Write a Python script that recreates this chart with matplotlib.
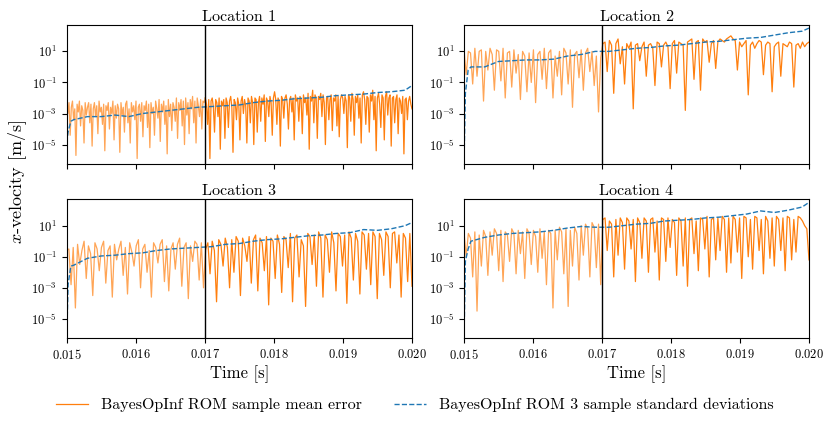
import numpy as np
import matplotlib
matplotlib.use("Agg")
import matplotlib.pyplot as plt
from matplotlib.ticker import FixedLocator, NullLocator

plt.rcParams["font.family"] = "cmr10"
plt.rcParams["mathtext.fontset"] = "cm"
plt.rcParams["axes.formatter.use_mathtext"] = True
plt.rcParams["axes.unicode_minus"] = False

titles = ["Location 1", "Location 2", "Location 3", "Location 4"]
t_train_end = 0.017

err_loc1 = [
    -2.5, -3.0, -2.3, -4.4, -2.6, -2.2, -3.4, -2.7, -5.7, -2.4, -2.9, -2.2, -3.8, -2.5, -2.8, -4.9, -2.3, -3.1, -2.6, -2.3,
    -3.6, -2.4, -5.1, -2.7, -2.3, -3.2, -2.5, -4.3, -2.2, -2.9, -2.6, -3.7, -2.4, -5.4, -2.5, -2.8, -2.3, -4.0, -2.6, -3.0,
    -2.2, -4.7, -2.5, -3.3, -2.4, -2.7, -5.5, -2.3, -3.1, -2.6, -4.2, -2.4, -2.2, -3.6, -2.7, -4.9, -2.3, -2.9, -2.5, -3.4,
    -2.2, -5.9, -2.6, -2.4, -3.5, -2.3, -4.5, -2.5, -2.8, -2.2, -3.9, -2.4, -5.2, -2.3, -3.0, -2.6, -4.4, -2.2, -2.7, -3.3,
    -2.1, -4.8, -2.4, -2.9, -2.2, -3.7, -2.5, -5.6, -2.1, -3.2, -2.4, -4.1, -2.3, -2.6, -3.5, -2.0, -4.6, -2.3, -2.8, -2.1,
    -3.8, -2.2, -5.0, -2.0, -3.1, -2.3, -4.3, -2.1, -2.7, -1.9, -3.6, -2.2, -4.9, -2.0, -2.5, -3.2, -2.1, -4.0, -2.2, -2.3,
    -2.0, -2.4, -3.7, -2.1, -5.9, -2.2, -2.0, -2.6, -4.2, -2.1, -2.3, -3.2, -2.0, -5.3, -2.2, -2.5, -2.1, -4.6, -2.0, -2.3,
    -3.9, -2.2, -1.9, -2.6, -5.5, -2.1, -2.3, -3.4, -2.0, -2.4, -4.7, -2.2, -1.9, -3.0, -2.1, -2.5, -4.9, -2.0, -2.2, -3.6,
    -1.9, -2.3, -5.0, -2.0, -2.1, -4.2, -2.3, -1.9, -3.5, -2.0, -2.4, -1.8, -4.8, -2.0, -2.2, -3.2, -1.9, -2.3, -4.4, -2.0,
    -1.6, -2.1, -3.7, -2.0, -2.2, -5.1, -1.9, -2.1, -3.3, -2.0, -1.8, -2.4, -4.0, -2.1, -1.9, -2.9, -2.0, -4.7, -1.8, -2.2,
    -2.0, -3.5, -1.9, -2.1, -4.3, -1.8, -2.3, -2.0, -3.1, -1.7, -5.3, -1.9, -2.2, -1.5, -3.6, -1.8, -2.0, -4.6, -1.9, -2.1,
    -1.7, -3.2, -1.8, -2.3, -5.0, -2.0, -1.9, -3.4, -2.1, -1.8, -4.1, -2.0, -2.2, -1.8, -3.8, -1.9, -4.5, -2.1, -1.8, -2.0,
    -3.0, -1.9, -2.2, -5.2, -1.8, -2.0, -3.5, -1.7, -2.1, -4.4, -1.9, -2.3, -1.8, -3.3, -2.0, -4.9, -1.8, -1.6, -2.1, -3.7,
    -1.9, -2.0, -4.2, -1.8, -2.2, -1.5, -3.4, -1.9, -5.4, -2.0, -1.7, -2.4, -3.9, -1.8, -2.0, -4.7, -1.9, -1.6, -3.1, -2.0,
    -1.8, -5.1, -2.0, -1.9, -3.6, -2.1, -1.8, -4.3, -2.0, -2.2, -3.0, -1.9, -5.6, -2.1, -2.0, -3.4, -2.2, -1.9, -2.4, -2.7,
]
err_loc2 = [
    1.1, -0.5, 1.0, 0.9, -1.1, 1.2, -0.6, 1.0, 1.1, -2.2, 1.0, -0.2, 1.2, 0.8, -1.5, 1.1, 1.0, -0.9, 1.2, -2.0,
    0.9, 1.0, -1.3, 1.1, -0.4, 0.8, -2.1, 1.0, 0.7, -1.6, 0.9, -1.0, 1.1, -2.3, 0.8, 1.0, -0.8, 1.2, -1.4, 0.9,
    1.1, -2.0, 0.7, -0.6, 1.0, -1.8, 1.2, 0.9, -1.1, 1.1, -2.6, 0.8, 1.0, -0.7, 1.1, -1.5, 0.9, 1.2, -0.3, 1.0,
    -1.2, 0.7, -2.9, 0.6,
    1.5, 1.6, -0.3, 1.7, 1.4, -1.7, 1.5, 1.8, 0.2, 1.3, -1.1, 1.5, 1.2, 1.6, -2.7, 1.4, 1.5, 0.4, 1.3, 1.6,
    -0.6, 1.4, 1.5, 1.2, -1.2, 1.6, 1.5, 0.0, 1.4, 1.6, 1.3, -1.4, 1.5, 1.7, -0.4, 1.6, 1.5, 1.4, -2.8, 1.6,
    1.7, 1.8, -0.8, 1.6, 1.7, -1.5, 1.8, 1.6, 1.7, 0.3, 1.5, 1.7, -0.1, 1.6, 1.8, 1.7, 1.6, 1.8, 1.9, 2.0,
    1.8, 1.7, -0.2, 1.6, 1.3, 1.5, 1.7, -1.8, 1.4, 1.6, 1.2, 1.5, 1.7, 1.6, -0.5, 1.4, 1.6, 1.5, -1.6, 1.3,
    1.5, 1.6, -0.6, 1.5, 1.4, 1.3, 1.6, 1.5, -1.3, 1.4, 1.5, 1.2, 1.6, 1.3, 1.5, 1.6,
]
err_loc3 = [
    -0.6, -0.5, -2.8, -0.4, -4.3, -0.2, -1.5, -0.6, 0.0, -2.4, -0.3, -0.8, -3.5, -0.1, -0.5, -1.9, -0.4, 0.0, -2.7, -0.6,
    -0.3, -3.6, -0.2, -1.2, -0.5, 0.0, -2.2, -0.4, -3.4, -0.1, -0.7, -1.6, -0.3, 0.1, -3.0, -0.5, -0.2, -2.0, -0.6, -3.6,
    -0.1, -0.4, -1.4, -0.2, 0.1, -2.6, -0.3, -3.2, -0.5, -0.1, -1.8, -0.2, 0.2, -2.9, -0.4, -0.1, -3.7, -0.3, -1.3, 0.0,
    -0.2, -2.5, -0.1, -3.0,
    -0.5, -0.1, -2.1, 0.0, -0.6, -3.9, 0.1, -0.2, -1.6, 0.2, -0.4, -3.0, 0.1, -2.0, 0.3, 0.0, -3.5, 0.2, -0.3, -1.3,
    0.3, -2.7, 0.1, 0.4, -3.2, 0.2, -0.1, -1.9, 0.3, -4.1, 0.2, 0.0, -2.4, 0.4, -0.2, -3.3, 0.3, 0.1, -1.7, 0.5,
    -3.9, 0.2, 0.4, -2.3, 0.1, -0.3, -4.2, 0.5, 0.3, -1.5, 0.4, -2.9, 0.6, 0.2, -3.6, 0.4, 0.1, -2.0, 0.6, -0.1,
    -3.2, 0.5, 0.3, -1.6, 0.4, -4.0, 0.6, 0.2, -2.5, 0.5, 0.0, -3.4, 0.6, 0.4, -1.8, 0.5, -2.8, 0.6, 0.3, -3.7,
    0.5, 0.1, -2.2, 0.6, 0.3, -3.0, 0.5, 0.6, -1.4, 0.4, -3.6, 0.5, 0.2, -2.6, 0.5, -2.9,
]
err_loc4 = [
    0.6, -1.0, 0.5, 0.2, -2.3, 0.6, -4.5, 0.4, -1.6, 0.7, 0.3, -2.2, 0.6, -0.9, 0.8, 0.5, -1.9, 0.7, -2.6, 0.6,
    0.4, -1.3, 0.8, 0.5, -2.1, 0.7, -0.8, 0.6, -2.4, 0.8, 0.5, -1.5, 0.7, 0.3, -2.0, 0.8, -1.1, 0.6, -2.8, 0.7,
    0.5, -4.3, 0.7, -1.2, 0.9, 0.6, -2.1, 0.8, -4.2, 0.7, -1.6, 0.9, 0.5, -2.5, 1.0, -0.9, 1.1, 0.8, -2.3, 1.2,
    0.9, -1.7, 1.1, -2.8,
    1.4, 1.5, -0.6, 1.3, 1.1, -2.3, 1.4, -0.9, 1.5, 1.2, -1.8, 1.5, 1.3, -0.5, 1.4, -2.6, 1.5, 1.2, -1.1, 1.5,
    1.3, -2.0, 1.4, 1.5, -0.7, 1.3, -2.5, 1.5, 1.4, -1.3, 1.5, -0.4, 1.4, 1.2, -2.2, 1.5, 1.3, -1.6, 1.5, -2.9,
    1.4, 1.5, -0.8, 1.3, -1.9, 1.5, 1.4, -0.5, 1.6, -2.3, 1.4, 1.5, -1.2, 1.5, -0.6, 1.6, 1.4, -2.0, 1.5, -1.4,
    1.6, 1.4, -0.7, 1.5, -2.4, 1.6, 1.5, -1.0, 1.4, -1.8, 1.6, 1.5, -0.6, 1.4, -2.1, 1.6, 1.3, -1.1, 1.5, -1.6,
    1.6, 1.4, -0.6, 1.5, -1.9, 1.6, 1.5, -1.2, 1.4, -0.7, 1.6, 1.5, 1.3, 1.0, 0.8, -1.2,
]

# 3 sample standard deviations, log10, at these times
t_std = [0.015, 0.01502, 0.01506, 0.0151, 0.0153, 0.0155, 0.0157, 0.0159, 0.0161, 0.0163,
         0.0165, 0.0167, 0.0169, 0.0171, 0.0173, 0.0175, 0.0177, 0.0179, 0.0181, 0.0183,
         0.0185, 0.0187, 0.0189, 0.0191, 0.0193, 0.0195, 0.0197, 0.0199, 0.020]
std_loc1 = [-4.9, -4.2, -3.5, -3.4, -3.2, -3.2, -3.1, -3.2, -3.0, -2.9, -2.8, -2.7, -2.6, -2.55, -2.5,
            -2.45, -2.3, -2.2, -2.15, -2.05, -2.0, -1.95, -1.85, -1.8, -1.75, -1.65, -1.6, -1.5, -1.2]
std_loc2 = [-6.2, -1.7, -0.2, 0.0, 0.0, 0.35, 0.4, 0.45, 0.45, 0.5, 0.7, 0.8, 1.0, 1.0, 1.1,
            1.2, 1.25, 1.35, 1.4, 1.5, 1.6, 1.65, 1.75, 1.85, 1.9, 2.05, 2.2, 2.3, 2.5]
std_loc3 = [-6.3, -2.8, -1.6, -1.55, -1.1, -0.95, -0.9, -0.8, -0.75, -0.6, -0.5, -0.45, -0.4, -0.35, -0.2,
            -0.15, 0.0, 0.1, 0.15, 0.25, 0.35, 0.4, 0.5, 0.55, 0.75, 0.7, 0.8, 1.0, 1.2]
std_loc4 = [-6.3, -1.3, -0.5, 0.0, 0.25, 0.4, 0.5, 0.55, 0.6, 0.7, 0.85, 0.95, 0.9, 0.9, 1.0,
            1.1, 1.15, 1.3, 1.35, 1.4, 1.5, 1.55, 1.65, 1.75, 1.95, 1.85, 2.0, 2.2, 2.5]

errs = [err_loc1, err_loc2, err_loc3, err_loc4]
stds = [std_loc1, std_loc2, std_loc3, std_loc4]

fig = plt.figure(figsize=(8.3, 4.28), dpi=100)
W, H = 830, 428
boxes = [(66.7, 25, 412, 164), (464, 25, 809, 164),
         (66.7, 199.3, 412, 338.3), (464, 199.3, 809, 338.3)]
axs = []
for i, (x0, y0, x1, y1) in enumerate(boxes):
    sharex = axs[0] if axs else None
    ax = fig.add_axes([x0 / W, 1 - y1 / H, (x1 - x0) / W, (y1 - y0) / H], sharex=sharex)
    axs.append(ax)

for i, ax in enumerate(axs):
    e = 10.0 ** np.array(errs[i])
    t = np.linspace(0.015, 0.020, len(e))
    pre = t <= t_train_end
    k = np.sum(pre)
    ax.plot(t[:k + 1], e[:k + 1], color="tab:orange", lw=0.9, alpha=0.7)
    ax.plot(t[k:], e[k:], color="tab:orange", lw=0.9,
            label="BayesOpInf ROM sample mean error")
    ax.plot(t_std, 10.0 ** np.array(stds[i]), color="tab:blue", lw=1.0, ls="--",
            label="BayesOpInf ROM 3 sample standard deviations")
    ax.axvline(t_train_end, color="black", lw=1.0)
    ax.set_yscale("log")
    ax.set_ylim(5.6e-7, 5e2)
    ax.set_xlim(0.015, 0.020)
    ax.yaxis.set_major_locator(FixedLocator([1e-5, 1e-3, 1e-1, 1e1]))
    ax.yaxis.set_minor_locator(NullLocator())
    ax.set_xticks([0.015, 0.016, 0.017, 0.018, 0.019, 0.020])
    ax.tick_params(labelsize=9)
    ax.set_title(titles[i], fontsize=11.5, pad=3)
    if i < 2:
        ax.tick_params(labelbottom=False)
    else:
        ax.set_xlabel("Time [s]", fontsize=12, labelpad=2)

fig.text(18 / W, 1 - 181.5 / H, "$x$-velocity [m/s]", rotation=90,
         ha="center", va="center", fontsize=13)

handles, labels = axs[0].get_legend_handles_labels()
fig.legend(handles[:2], labels[:2], loc="center", bbox_to_anchor=(0.5, 1 - 405 / H),
           ncol=2, frameon=False, fontsize=11.5, columnspacing=2.0, handlelength=2.0)

fig.savefig("out.png", dpi=100)
